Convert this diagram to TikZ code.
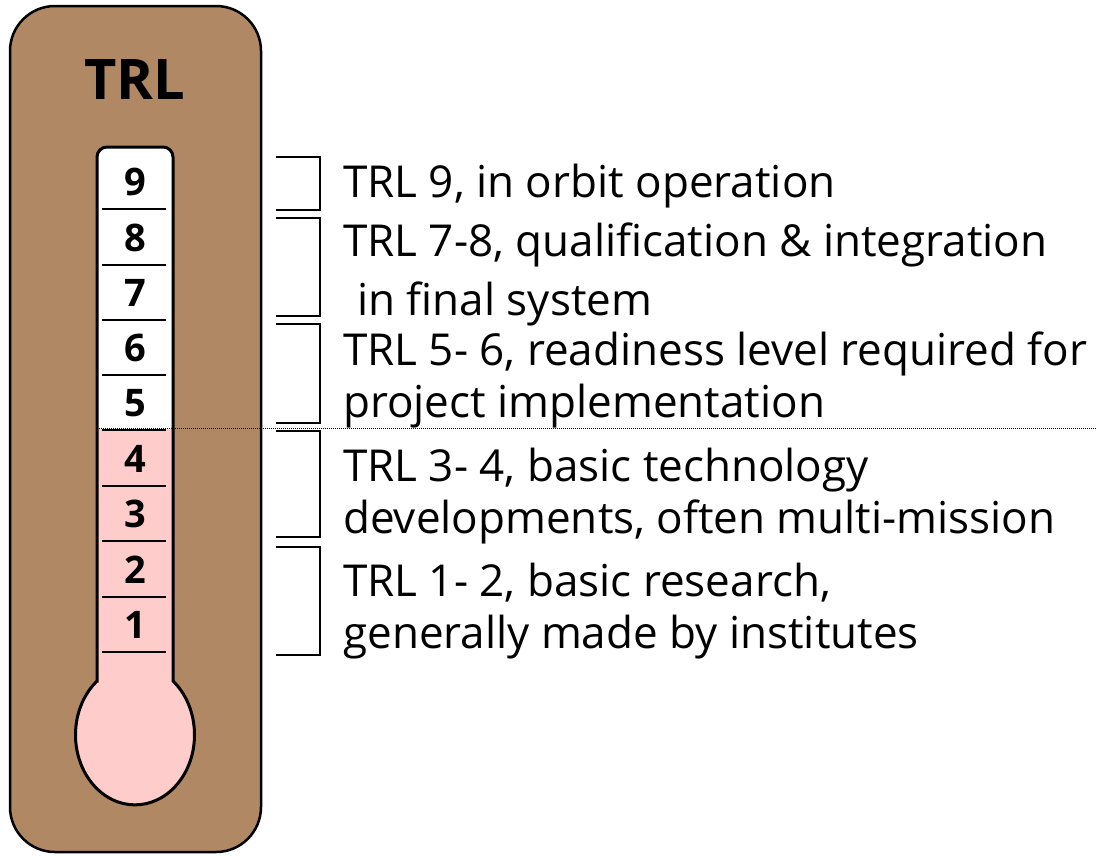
\documentclass[tikz,border=0pt]{standalone}
\usepackage{fontspec}
\setmainfont{Open Sans}
\usetikzlibrary{positioning}
\definecolor{madeira}{RGB}{176,137,100}
\definecolor{rosa}{RGB}{255,204,204}
\tikzset{%
  caixa/.style={draw=black,fill=madeira,line width=2.5pt,rounded corners=45pt},
  tubo/.style={draw=black,line width=3pt},
  marca/.style={draw=black,line width=1.5pt},
  divisa/.style={draw=black,densely dotted,line width=1pt},
  colchete/.style={draw=black,line width=1.6pt},
  numero/.style={font=\bfseries\fontsize{38}{40}\selectfont,inner sep=0pt},
  titulo/.style={font=\bfseries\fontsize{56}{60}\selectfont,inner sep=0pt},
  rotulo/.style={font=\fontsize{44}{52}\selectfont,align=left,anchor=base west,inner sep=0pt}
}
\begin{document}
\begin{tikzpicture}[x=1pt,y=-1pt]
  \useasboundingbox (0,0) rectangle (1097,855);
  \draw[caixa] (10,6) rectangle (261,852);
  \node[titulo] (titulo) at (135,80) {TRL};
  % contorno do tubo com o bulbo
  \path[save path=\contorno] (97,681) -- (97,157) arc[start angle=180,end angle=270,radius=10]
    -- (163,147) arc[start angle=270,end angle=360,radius=10] -- (173,681)
    arc[start angle=-50.3,end angle=230.3,x radius=59.5,y radius=70] -- cycle;
  \fill[rosa,use path=\contorno];
  \begin{scope}
    \clip (80,140) rectangle (190,428);
    \fill[white,use path=\contorno];
  \end{scope}
  \draw[tubo,use path=\contorno];
  \draw[divisa] (97,428) -- (1097,428);
  \foreach \y in {209,265,320,375,430,486,541,597,652}
    \draw[marca] (102,\y) -- (166,\y);
  \foreach \n in {1,...,9}
    \node[numero] (n\n) at (135,{680-55.3*\n}) {\n};
  % colchetes
  \foreach \a/\b in {157/210,218/316,324/423,431/537,547/655}
    \draw[colchete] (276,\a) -- (320,\a) -- (320,\b) -- (276,\b);
  % rotulos (ancorados na linha de base da ultima linha)
  \node[rotulo] (trl9) at (343,197) {TRL 9, in orbit operation};
  \node[rotulo] (trl78) at (343,315) {TRL 7-8, qualification \& integration\\[7pt]\hspace*{14pt}in final system};
  \node[rotulo] (trl56) at (343,417) {TRL 5- 6, readiness level required for\\project implementation};
  \node[rotulo] (trl34) at (343,533) {TRL 3- 4, basic technology\\developments, often multi-mission};
  \node[rotulo] (trl12) at (343,648) {TRL 1- 2, basic research,\\generally made by institutes};
\end{tikzpicture}
\end{document}
